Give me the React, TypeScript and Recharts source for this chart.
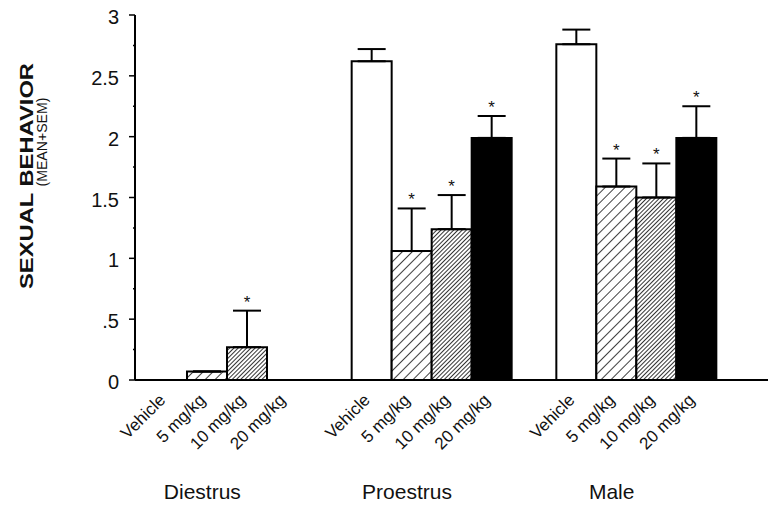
import { BarChart, Bar, XAxis, YAxis, ErrorBar, LabelList } from "recharts";

const groups = ["Diestrus", "Proestrus", "Male"];
const doseLabels = ["Vehicle", "5 mg/kg", "10 mg/kg", "20 mg/kg"];

// mean and SEM per group (Diestrus, Proestrus, Male)
const vehicle = [0, 2.62, 2.76];
const vehicleSem = [0, 0.1, 0.12];
const mg5 = [0.07, 1.06, 1.59];
const mg5Sem = [0, 0.35, 0.23];
const mg10 = [0.27, 1.24, 1.5];
const mg10Sem = [0.3, 0.28, 0.28];
const mg20 = [0, 1.99, 1.99];
const mg20Sem = [0, 0.18, 0.26];

// * = significant vs vehicle
const vehicleSig = [false, false, false];
const mg5Sig = [false, true, true];
const mg10Sig = [true, true, true];
const mg20Sig = [false, true, true];

const yTickValues = [0, 0.5, 1, 1.5, 2, 2.5, 3];
const yTickLabels = ["0", ".5", "1", "1.5", "2", "2.5", "3"];
const yMinorTicks = [0.25, 0.75, 1.25, 1.75, 2.25, 2.75];

const FONT = '"Liberation Sans", Arial, Helvetica, sans-serif';
const BAR_SIZE = 40;

const series = [
  { key: "vehicle", values: vehicle, sem: vehicleSem, sig: vehicleSig, fill: "#ffffff" },
  { key: "mg5", values: mg5, sem: mg5Sem, sig: mg5Sig, fill: "url(#hatchSparse)" },
  { key: "mg10", values: mg10, sem: mg10Sem, sig: mg10Sig, fill: "url(#hatchDense)" },
  { key: "mg20", values: mg20, sem: mg20Sem, sig: mg20Sig, fill: "#000000" },
];

const data = groups.map((g, i) => {
  const row: Record<string, unknown> = { group: g };
  series.forEach((s) => {
    row[s.key] = s.values[i];
    row[s.key + "Err"] = [0, s.sem[i]];
    row[s.key + "Star"] = s.sig[i] ? { mean: s.values[i], sem: s.sem[i] } : null;
  });
  return row;
});

function YTick(props: any) {
  const { x, y, payload } = props;
  const idx = yTickValues.indexOf(payload.value);
  const major = idx >= 0;
  return (
    <g>
      <line x1={x - (major ? 6 : 2)} x2={x} y1={y} y2={y} stroke="#000" strokeWidth={1.5} />
      {major && (
        <text x={x - 16} y={y + 9} textAnchor="end" style={{ fontSize: 20, fontFamily: FONT }} fill="#111">
          {yTickLabels[idx]}
        </text>
      )}
    </g>
  );
}

function XTick(props: any) {
  const { x, y, payload } = props;
  return (
    <g>
      {doseLabels.map((lab, i) => {
        const cx = x + (i - 1.5) * BAR_SIZE - 1;
        const cy = y + 21;
        return (
          <text
            key={lab}
            x={cx}
            y={cy}
            textAnchor="end"
            style={{ fontSize: 17, fontFamily: FONT }}
            fill="#111"
            transform={`rotate(-45 ${cx} ${cy})`}
          >
            {lab}
          </text>
        );
      })}
      <text x={x - 25} y={y + 119} textAnchor="middle" style={{ fontSize: 21, fontFamily: FONT }} fill="#111">
        {payload.value}
      </text>
    </g>
  );
}

function StarLabel(props: any) {
  const vb = props.viewBox ?? props;
  const v = props.value;
  if (!v || typeof v !== "object" || !v.mean) return null;
  const px = vb.height / v.mean;
  const top = vb.y - v.sem * px;
  return (
    <text
      x={vb.x + vb.width / 2}
      y={top - 3}
      textAnchor="middle"
      style={{ fontSize: 17, fontFamily: FONT }}
      fill="#111"
    >
      *
    </text>
  );
}

export default function App() {
  return (
    <div style={{ position: "absolute", left: 0, top: 0, width: 768, height: 506, background: "#fff" }}>
      <svg width={0} height={0} style={{ position: "absolute" }}>
        <defs>
          <pattern id="hatchSparse" width={7} height={7} patternUnits="userSpaceOnUse" patternTransform="rotate(45)">
            <rect width={7} height={7} fill="#fff" />
            <line x1={0} y1={0} x2={0} y2={7} stroke="#000" strokeWidth={1.5} />
          </pattern>
          <pattern id="hatchDense" width={3} height={3} patternUnits="userSpaceOnUse" patternTransform="rotate(45)">
            <rect width={3} height={3} fill="#fff" />
            <line x1={0} y1={0} x2={0} y2={3} stroke="#000" strokeWidth={1.6} />
          </pattern>
        </defs>
      </svg>
      <BarChart
        width={768}
        height={506}
        data={data}
        margin={{ top: 15, right: 0, bottom: 0, left: 0 }}
        barGap={0}
        barSize={BAR_SIZE}
      >
        <XAxis
          dataKey="group"
          height={126}
          padding={{ left: -10, right: 29 }}
          tick={<XTick />}
          tickLine={false}
          tickSize={0}
          tickMargin={0}
          axisLine={{ stroke: "#000", strokeWidth: 2 }}
          interval={0}
        />
        <YAxis
          domain={[0, 3]}
          ticks={[...yTickValues, ...yMinorTicks].sort((a, b) => a - b)}
          width={135}
          tick={<YTick />}
          tickLine={false}
          tickSize={0}
          tickMargin={0}
          axisLine={{ stroke: "#000", strokeWidth: 2 }}
          interval={0}
          allowDataOverflow
        />
        {series.map((s) => (
          <Bar
            key={s.key}
            dataKey={s.key}
            fill={s.fill}
            stroke="#000"
            strokeWidth={2}
            isAnimationActive={false}
          >
            <ErrorBar dataKey={s.key + "Err"} width={14} stroke="#000" strokeWidth={2} direction="y" />
            <LabelList dataKey={(row: any) => row[s.key + "Star"]} content={<StarLabel />} />
          </Bar>
        ))}
      </BarChart>
      <svg width={70} height={400} style={{ position: "absolute", left: 0, top: 0 }}>
        <text
          x={33}
          y={176}
          transform="rotate(-90 33 176)"
          textAnchor="middle"
          style={{ fontSize: 19, fontWeight: "bold", fontFamily: FONT }}
          fill="#111"
          textLength={226}
          lengthAdjust="spacingAndGlyphs"
        >
          SEXUAL BEHAVIOR
        </text>
        <text
          x={47}
          y={142}
          transform="rotate(-90 47 142)"
          textAnchor="middle"
          style={{ fontSize: 14, fontFamily: FONT }}
          fill="#111"
          textLength={89}
          lengthAdjust="spacingAndGlyphs"
        >
          (MEAN+SEM)
        </text>
      </svg>
    </div>
  );
}
